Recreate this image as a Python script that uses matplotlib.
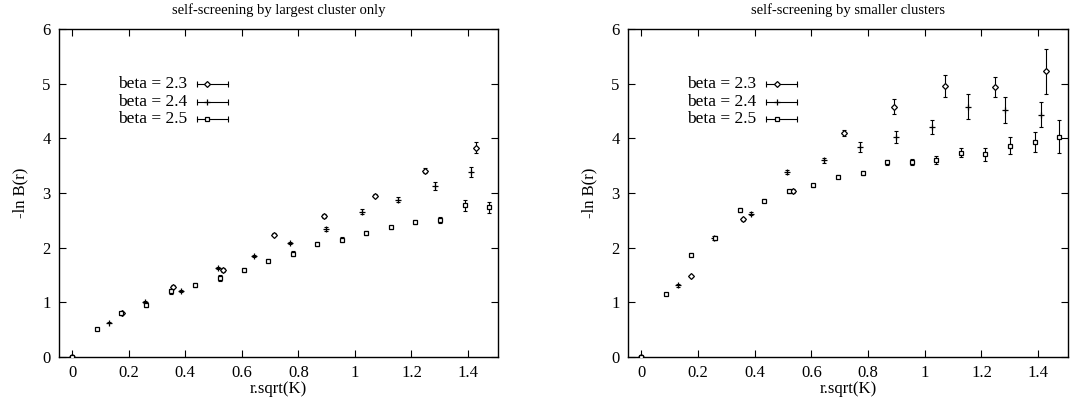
import matplotlib
matplotlib.use("Agg")
import matplotlib.pyplot as plt

plt.rcParams['font.family'] = ['Liberation Serif', 'DejaVu Serif']

# r.sqrt(K) positions for each beta
x_23 = [0, 0.176, 0.357, 0.535, 0.714, 0.892, 1.070, 1.249, 1.428]
x_24 = [0, 0.129, 0.257, 0.386, 0.515, 0.643, 0.770, 0.898, 1.026, 1.154, 1.282, 1.410]
x_25 = [0, 0.088, 0.174, 0.261, 0.348, 0.434, 0.521, 0.607, 0.694, 0.781,
        0.867, 0.954, 1.040, 1.127, 1.214, 1.300, 1.388, 1.475]

# left: self-screening by largest cluster only
left_y_23 = [0, 0.80, 1.29, 1.59, 2.24, 2.58, 2.95, 3.41, 3.83]
left_e_23 = [0, 0.02, 0.03, 0.03, 0.03, 0.03, 0.03, 0.04, 0.10]
left_y_24 = [0, 0.63, 1.00, 1.21, 1.63, 1.85, 2.08, 2.34, 2.66, 2.88, 3.13, 3.38]
left_e_24 = [0, 0.01, 0.02, 0.02, 0.02, 0.02, 0.02, 0.03, 0.04, 0.05, 0.08, 0.09]
left_y_25 = [0, 0.51, 0.80, 0.95, 1.20, 1.32, 1.45, 1.59, 1.76, 1.89,
             2.07, 2.15, 2.27, 2.37, 2.47, 2.51, 2.78, 2.74]
left_e_25 = [0, 0.02, 0.03, 0.04, 0.05, 0.03, 0.05, 0.04, 0.03, 0.05,
             0.04, 0.04, 0.04, 0.03, 0.03, 0.06, 0.10, 0.10]

# right: self-screening by smaller clusters
right_y_23 = [0, 1.48, 2.52, 3.04, 4.10, 4.58, 4.96, 4.94, 5.23]
right_e_23 = [0, 0.02, 0.03, 0.03, 0.06, 0.14, 0.20, 0.18, 0.41]
right_y_24 = [0, 1.31, 2.18, 2.62, 3.39, 3.60, 3.84, 4.03, 4.21, 4.58, 4.52, 4.43]
right_e_24 = [0, 0.02, 0.03, 0.03, 0.04, 0.05, 0.09, 0.11, 0.13, 0.23, 0.23, 0.23]
right_y_25 = [0, 1.16, 1.87, 2.18, 2.69, 2.86, 3.03, 3.14, 3.30, 3.365,
              3.56, 3.57, 3.60, 3.74, 3.71, 3.865, 3.93, 4.03]
right_e_25 = [0, 0.02, 0.03, 0.03, 0.03, 0.03, 0.03, 0.03, 0.03, 0.04,
              0.05, 0.06, 0.07, 0.08, 0.12, 0.155, 0.18, 0.30]

labels = ['beta = 2.3', 'beta = 2.4', 'beta = 2.5']
titles = ['self-screening by largest cluster only', 'self-screening by smaller clusters']
xticks = [0, 0.2, 0.4, 0.6, 0.8, 1.0, 1.2, 1.4]
xticklabels = ['0', '0.2', '0.4', '0.6', '0.8', '1', '1.2', '1.4']
yticks = [0, 1, 2, 3, 4, 5, 6]

markers = [dict(marker='D', ms=3.0, mfc='white'),
           dict(marker='+', ms=5.0, mfc='black'),
           dict(marker='s', ms=3.5, mfc='white')]

fig = plt.figure(figsize=(10.7, 4.09), dpi=100)
axes = [fig.add_axes([0.0551, 0.127, 0.410, 0.802]),
        fig.add_axes([0.587, 0.127, 0.411, 0.802])]

panels = [
    [(x_23, left_y_23, left_e_23), (x_24, left_y_24, left_e_24), (x_25, left_y_25, left_e_25)],
    [(x_23, right_y_23, right_e_23), (x_24, right_y_24, right_e_24), (x_25, right_y_25, right_e_25)],
]

for ax, series, title in zip(axes, panels, titles):
    for (xs, ys, es), mk in zip(series, markers):
        ax.errorbar(xs, ys, yerr=es, fmt='none', ecolor='black',
                    elinewidth=0.8, capsize=1.7, capthick=0.8, zorder=2)
        ax.plot(xs, ys, ls='none', color='black', mew=0.9, zorder=3, **mk)

    # gnuplot style key: text, then errorbar sample
    for i, (lab, mk) in enumerate(zip(labels, markers)):
        yk = 0.832 - i * 0.053
        ax.text(0.292, yk, lab, transform=ax.transAxes, ha='right', va='center',
                fontsize=12.5)
        ax.plot([0.314, 0.385], [yk, yk], transform=ax.transAxes, color='black',
                lw=0.8, clip_on=False)
        ax.plot([0.314, 0.385], [yk, yk], transform=ax.transAxes, ls='none',
                marker='|', ms=5, mew=0.8, color='black', clip_on=False)
        ax.plot([0.338], [yk], transform=ax.transAxes, ls='none', color='black',
                mew=0.9, clip_on=False, **mk)

    ax.set_xlim(-0.047, 1.505)
    ax.set_ylim(0, 6)
    ax.set_xticks(xticks)
    ax.set_xticklabels(xticklabels)
    ax.set_yticks(yticks)
    ax.tick_params(direction='in', top=True, right=True, length=5, width=0.8,
                   labelsize=12, pad=6)
    for sp in ax.spines.values():
        sp.set_linewidth(1.0)
    ax.set_title(title, fontsize=10.5, pad=11)
    ax.set_xlabel('r.sqrt(K)', fontsize=12, labelpad=0)
    ax.set_ylabel('-ln B(r)', fontsize=12, labelpad=10)

fig.savefig('out.png', dpi=100)
